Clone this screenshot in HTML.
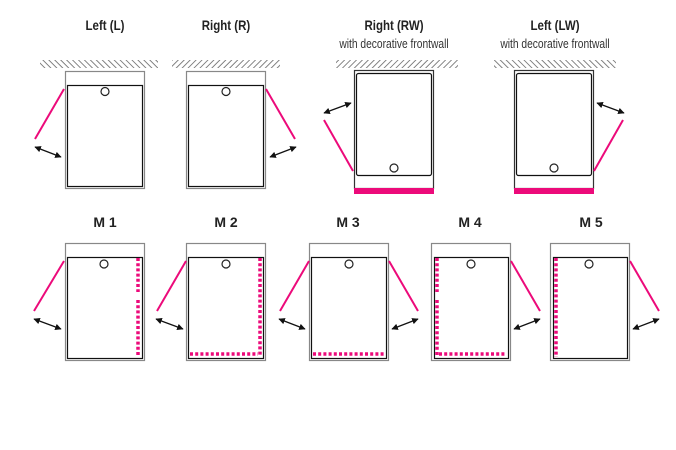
<!DOCTYPE html>
<html><head><meta charset="utf-8"><style>
html,body{margin:0;padding:0;background:#fff;}
svg{display:block;}
text{font-family:"Liberation Sans",sans-serif;fill:#222;}
.t{font-weight:bold;font-size:14px;}
.s{font-size:12.5px;fill:#333;}
</style></head><body>
<svg width="676" height="450" viewBox="0 0 676 450" xmlns="http://www.w3.org/2000/svg">
<defs>
<pattern id="hb" width="4.2" height="4" patternUnits="userSpaceOnUse" patternTransform="rotate(-45)"><line x1="0.5" y1="0" x2="0.5" y2="4" stroke="#666" stroke-width="0.8"/></pattern>
<pattern id="hf" width="4.2" height="4" patternUnits="userSpaceOnUse" patternTransform="rotate(45)"><line x1="0.5" y1="0" x2="0.5" y2="4" stroke="#666" stroke-width="0.8"/></pattern>
<marker id="a" viewBox="0 0 10 10" refX="9" refY="5" markerWidth="5" markerHeight="5" orient="auto-start-reverse"><path d="M0,0L10,5L0,10z" fill="#111"/></marker>
</defs>
<g text-anchor="middle">
<text class="t" x="105" y="30" transform="translate(105 0) scale(0.82 1) translate(-105 0)">Left (L)</text>
<text class="t" x="226" y="30" transform="translate(226 0) scale(0.82 1) translate(-226 0)">Right (R)</text>
<text class="t" x="394" y="30" transform="translate(394 0) scale(0.82 1) translate(-394 0)">Right (RW)</text>
<text class="s" x="394" y="48" transform="translate(394 0) scale(0.82 1) translate(-394 0)">with decorative frontwall</text>
<text class="t" x="555" y="30" transform="translate(555 0) scale(0.82 1) translate(-555 0)">Left (LW)</text>
<text class="s" x="555" y="48" transform="translate(555 0) scale(0.82 1) translate(-555 0)">with decorative frontwall</text>
<text class="t" x="105" y="227">M 1</text>
<text class="t" x="226" y="227">M 2</text>
<text class="t" x="348" y="227">M 3</text>
<text class="t" x="470" y="227">M 4</text>
<text class="t" x="591" y="227">M 5</text>
</g>
<rect x="40" y="60" width="118" height="8" fill="url(#hb)"/>
<rect x="172" y="60" width="108" height="8" fill="url(#hf)"/>
<rect x="336" y="60" width="122" height="8" fill="url(#hf)"/>
<rect x="494" y="60" width="122" height="8" fill="url(#hb)"/>

<g fill="none" stroke-width="1.2">
<rect x="65.5" y="71.5" width="79" height="117" stroke="#888"/>
<rect x="67.5" y="85.5" width="75" height="101" stroke="#111"/>
<circle cx="105" cy="91.5" r="4" stroke="#222"/>
<rect x="186.5" y="71.5" width="79" height="117" stroke="#888"/>
<rect x="188.5" y="85.5" width="75" height="101" stroke="#111"/>
<circle cx="226" cy="91.5" r="4" stroke="#222"/>
<rect x="354.5" y="70.5" width="79" height="118" stroke="#333"/>
<rect x="356.5" y="73.5" width="75" height="102" rx="2" stroke="#111"/>
<circle cx="394" cy="168" r="4" stroke="#222"/>
<rect x="514.5" y="70.5" width="79" height="118" stroke="#333"/>
<rect x="516.5" y="73.5" width="75" height="102" rx="2" stroke="#111"/>
<circle cx="554" cy="168" r="4" stroke="#222"/>
<rect x="65.5" y="243.5" width="79" height="117" stroke="#888"/>
<rect x="67.5" y="257.5" width="75" height="101" stroke="#111"/>
<circle cx="104" cy="264" r="4" stroke="#222"/>
<rect x="186.5" y="243.5" width="79" height="117" stroke="#888"/>
<rect x="188.5" y="257.5" width="75" height="101" stroke="#111"/>
<circle cx="226" cy="264" r="4" stroke="#222"/>
<rect x="309.5" y="243.5" width="79" height="117" stroke="#888"/>
<rect x="311.5" y="257.5" width="75" height="101" stroke="#111"/>
<circle cx="349" cy="264" r="4" stroke="#222"/>
<rect x="431.5" y="243.5" width="79" height="117" stroke="#888"/>
<rect x="434.5" y="257.5" width="74" height="101" stroke="#111"/>
<circle cx="471" cy="264" r="4" stroke="#222"/>
<rect x="550.5" y="243.5" width="79" height="117" stroke="#888"/>
<rect x="553.5" y="257.5" width="74" height="101" stroke="#111"/>
<circle cx="589" cy="264" r="4" stroke="#222"/>
</g>
<rect x="354" y="188" width="80" height="6" fill="#ec0a7a"/>
<rect x="514" y="188" width="80" height="6" fill="#ec0a7a"/>
<g stroke="#ec0a7a" stroke-width="2">
<line x1="64" y1="89" x2="35" y2="139"/>
<line x1="266" y1="89" x2="295" y2="139"/>
<line x1="353" y1="171" x2="324" y2="120"/>
<line x1="594" y1="171" x2="623" y2="120"/>
<line x1="64" y1="261" x2="34" y2="311"/>
<line x1="186" y1="261" x2="157" y2="311"/>
<line x1="309" y1="261" x2="280" y2="311"/>
<line x1="389" y1="261" x2="418" y2="311"/>
<line x1="511" y1="261" x2="540" y2="311"/>
<line x1="630" y1="261" x2="659" y2="311"/>
</g>
<g stroke="#ec0a7a" stroke-width="3.5" stroke-dasharray="3 2.2" fill="none">
<line x1="138" y1="258" x2="138" y2="292"/>
<line x1="138" y1="300" x2="138" y2="357"/>
<line x1="260" y1="258" x2="260" y2="356"/>
<path d="M190 354H258"/>
<path d="M313 354H384"/>
<line x1="437" y1="258" x2="437" y2="292"/>
<line x1="437" y1="300" x2="437" y2="356"/>
<path d="M439 354H506"/>
<line x1="556" y1="258" x2="556" y2="357"/>
</g>
<g stroke="#111" stroke-width="1.3" marker-start="url(#a)" marker-end="url(#a)">
<line x1="35" y1="147" x2="61" y2="157"/>
<line x1="270" y1="157" x2="296" y2="147"/>
<line x1="324" y1="113" x2="351" y2="103"/>
<line x1="597" y1="103" x2="624" y2="113"/>
<line x1="34" y1="319" x2="61" y2="329"/>
<line x1="156" y1="319" x2="183" y2="329"/>
<line x1="279" y1="319" x2="305" y2="329"/>
<line x1="392" y1="329" x2="418" y2="319"/>
<line x1="514" y1="329" x2="540" y2="319"/>
<line x1="633" y1="329" x2="659" y2="319"/>
</g>
</svg>
</body></html>
